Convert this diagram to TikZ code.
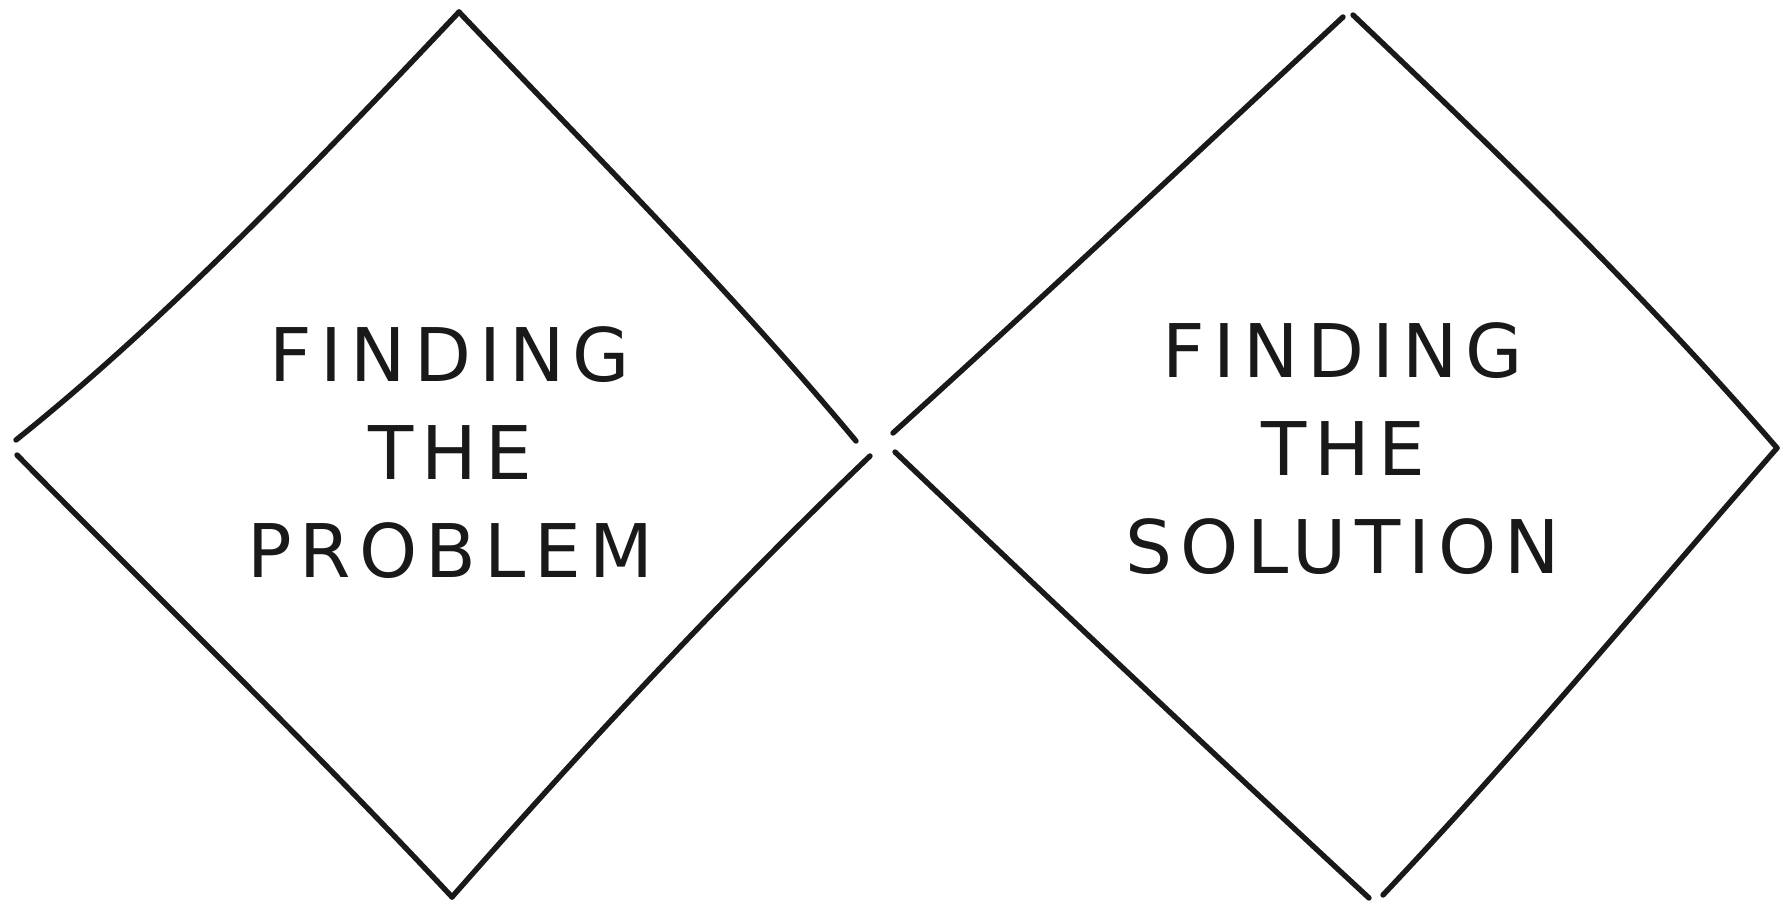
\documentclass[tikz,border=0pt]{standalone}
\usepackage{fontspec}
\setmainfont{DejaVu Sans}[LetterSpace=11]
\begin{document}
\begin{tikzpicture}[x=1pt,y=-1pt,
  edge/.style={line width=5.4pt,line cap=round,line join=round,black!90},
  label/.style={align=center,inner sep=0pt,font=\fontsize{74}{98}\selectfont,text=black!90}]
\useasboundingbox (0,0) rectangle (1785,904);
% left diamond
\coordinate (LL1) at (16,440);
\coordinate (LL2) at (17,455);
\coordinate (LT) at (459,12);
\coordinate (LR1) at (856,441);
\coordinate (LR2) at (870,456);
\coordinate (LB) at (452,897);
\draw[edge] (LL1) .. controls (160,325) and (310,170) .. (LT);
\draw[edge] (LT) .. controls (590,150) and (730,290) .. (LR1);
\draw[edge] (LR2) .. controls (730,590) and (590,740) .. (LB);
\draw[edge] (LB) .. controls (310,745) and (160,600) .. (LL2);
% right diamond
\coordinate (RL1) at (893,433);
\coordinate (RL2) at (895,452);
\coordinate (RT1) at (1343,17);
\coordinate (RT2) at (1353,15);
\coordinate (RR) at (1777,448);
\coordinate (RB1) at (1369,898);
\coordinate (RB2) at (1383,895);
\draw[edge] (RL1) .. controls (1040,300) and (1200,150) .. (RT1);
\draw[edge] (RT2) .. controls (1495,150) and (1640,290) .. (RR);
\draw[edge] (RR) .. controls (1640,605) and (1520,750) .. (RB2);
\draw[edge] (RB1) .. controls (1220,760) and (1045,595) .. (RL2);
% texts
\node[label] (tl) at (450,453) {FINDING\\THE\\PROBLEM};
\node[label] (tr) at (1343,449) {FINDING\\THE\\SOLUTION};
\end{tikzpicture}
\end{document}
